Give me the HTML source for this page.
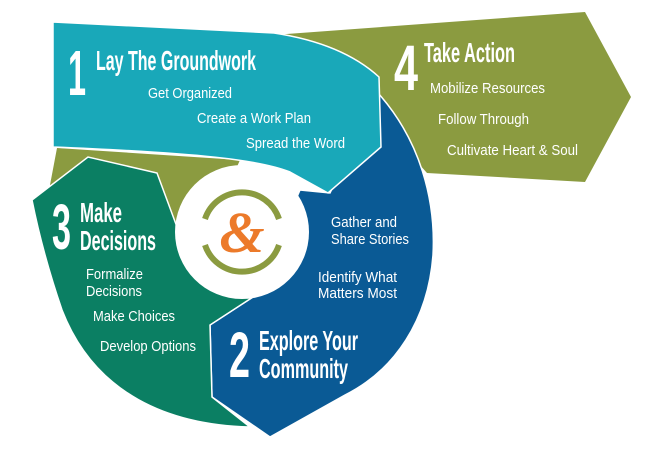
<!DOCTYPE html>
<html><head><meta charset="utf-8"><style>
html,body{margin:0;padding:0;background:#fff;}
svg{display:block}
text{font-family:"Liberation Sans Narrow","Liberation Sans",sans-serif;fill:#fff;}
.t{font-weight:bold;font-size:28px}
.s{font-size:15px}
.n{font-weight:bold;font-size:64px}
</style></head><body>
<svg width="668" height="467" viewBox="0 0 668 467" xmlns="http://www.w3.org/2000/svg">
<polygon points="273,35 585,12 631,97 585,182 427,173 380,120" fill="#8b9b40"/>
<path d="M50,185 L57,148 L240,160 L200,250 L150,200 Z" fill="#8b9b40"/>
<path d="M378,93 C420,140 436,200 433,255 C428,320 395,370 345,395 L270,437 L212,397 L210,325 L253,297 L300,190 L330,193 Z" fill="#0a5a95" stroke="#fff" stroke-width="1.5"/>
<path d="M32,200 L88,157 L157,173 L177,227 L253,297 L210,325 L212,397 L250,427 C170,425 95,395 62,310 C50,275 40,240 32,200 Z" fill="#0b7f63" stroke="#fff" stroke-width="1.5"/>
<path d="M53,22 L274,33 C320,40 355,55 379,77 L381,147 L328,193 L290,172 C260,160 200,153 53,147 Z" fill="#19a8b9" stroke="#fff" stroke-width="1.5"/>
<circle cx="242" cy="232" r="67" fill="#fff"/>
<path d="M205,219 A39,39 0 0 1 279,219" fill="none" stroke="#8b9b40" stroke-width="6"/>
<path d="M205,245 A39,39 0 0 0 279,245" fill="none" stroke="#8b9b40" stroke-width="6"/>
<text x="242" y="252" text-anchor="middle" style="font-family:'Liberation Serif',serif;font-style:italic;font-size:58px;fill:#ec7a2a;font-weight:bold">&amp;</text>
<text class="n" x="68" y="95" textLength="18" lengthAdjust="spacingAndGlyphs">1</text>
<text class="t" x="96" y="70" textLength="160" lengthAdjust="spacingAndGlyphs">Lay The Groundwork</text>
<text class="s" x="148" y="98" textLength="84" lengthAdjust="spacingAndGlyphs">Get Organized</text>
<text class="s" x="197" y="123" textLength="114" lengthAdjust="spacingAndGlyphs">Create a Work Plan</text>
<text class="s" x="246" y="148" textLength="99" lengthAdjust="spacingAndGlyphs">Spread the Word</text>
<text class="n" x="394" y="90" textLength="24" lengthAdjust="spacingAndGlyphs">4</text>
<text class="t" x="424" y="62" textLength="91" lengthAdjust="spacingAndGlyphs">Take Action</text>
<text class="s" x="430" y="93" textLength="115" lengthAdjust="spacingAndGlyphs">Mobilize Resources</text>
<text class="s" x="438" y="124" textLength="91" lengthAdjust="spacingAndGlyphs">Follow Through</text>
<text class="s" x="447" y="155" textLength="131" lengthAdjust="spacingAndGlyphs">Cultivate Heart &amp; Soul</text>
<text class="n" x="52" y="249" textLength="19" lengthAdjust="spacingAndGlyphs">3</text>
<text class="t" x="80" y="222" textLength="42" lengthAdjust="spacingAndGlyphs">Make</text>
<text class="t" x="80" y="250" textLength="76" lengthAdjust="spacingAndGlyphs">Decisions</text>
<text class="s" x="86" y="279" textLength="57" lengthAdjust="spacingAndGlyphs">Formalize</text>
<text class="s" x="86" y="296" textLength="56" lengthAdjust="spacingAndGlyphs">Decisions</text>
<text class="s" x="93" y="321" textLength="82" lengthAdjust="spacingAndGlyphs">Make Choices</text>
<text class="s" x="100" y="351" textLength="96" lengthAdjust="spacingAndGlyphs">Develop Options</text>
<text class="s" x="331" y="227" textLength="66" lengthAdjust="spacingAndGlyphs">Gather and</text>
<text class="s" x="331" y="244" textLength="78" lengthAdjust="spacingAndGlyphs">Share Stories</text>
<text class="s" x="318" y="282" textLength="79" lengthAdjust="spacingAndGlyphs">Identify What</text>
<text class="s" x="318" y="298" textLength="79" lengthAdjust="spacingAndGlyphs">Matters Most</text>
<text class="n" x="229" y="377" textLength="21" lengthAdjust="spacingAndGlyphs">2</text>
<text class="t" x="259" y="350" textLength="99" lengthAdjust="spacingAndGlyphs">Explore Your</text>
<text class="t" x="259" y="378" textLength="89" lengthAdjust="spacingAndGlyphs">Community</text>
</svg>
</body></html>
